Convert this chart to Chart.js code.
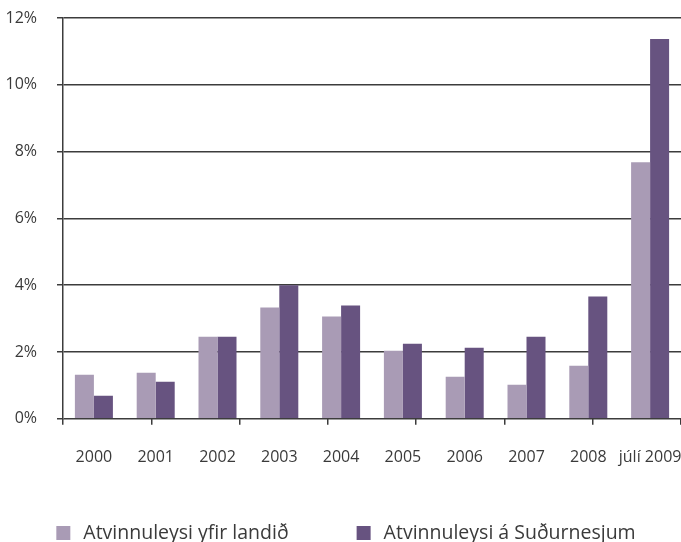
<!DOCTYPE html>
<html>
<head>
<meta charset="utf-8">
<script src="https://cdn.jsdelivr.net/npm/chart.js@4"></script>
<style>
  html, body { margin: 0; padding: 0; background: #fff; }
  #wrap { width: 681px; height: 542px; overflow: hidden; position: relative; }
  canvas { display: block; }
</style>
</head>
<body>
<div id="wrap"><canvas id="c" width="688" height="542"></canvas></div>
<script>
const categories = ['2000', '2001', '2002', '2003', '2004', '2005', '2006', '2007', '2008', 'júlí 2009'];
const seriesNames = ['Atvinnuleysi yfir landið', 'Atvinnuleysi á Suðurnesjum'];
const landid = [1.32, 1.38, 2.46, 3.33, 3.06, 2.04, 1.26, 1.02, 1.59, 7.68];
const sudurnes = [0.69, 1.11, 2.46, 4.0, 3.39, 2.25, 2.13, 2.46, 3.66, 11.37];
const yTicks = [0, 2, 4, 6, 8, 10, 12];

const lightColor = '#a99bb5';
const darkColor = '#675380';
const textColor = '#3a3a3a';
const gridColor = '#3c3c3c';

// Legend drawn from the datasets (labels + colours) below the axis.
const bottomLegend = {
  id: 'bottomLegend',
  afterDraw(chart) {
    const ctx = chart.ctx;
    const font = '19.5px "Open Sans"';
    const box = 14, gapText = 13, gapItems = 68, centerY = 533, centerX = 346;
    ctx.save();
    ctx.font = font;
    const items = chart.data.datasets.map(ds => ({
      text: ds.label, color: ds.backgroundColor,
      w: box + gapText + ctx.measureText(ds.label).width
    }));
    const total = items.reduce((s, it) => s + it.w, 0) + gapItems * (items.length - 1);
    let x = centerX - total / 2;
    ctx.textBaseline = 'middle';
    ctx.textAlign = 'left';
    items.forEach(it => {
      ctx.fillStyle = it.color;
      ctx.fillRect(x, centerY - box / 2, box, box);
      ctx.fillStyle = textColor;
      ctx.fillText(it.text, x + box + gapText, centerY);
      x += it.w + gapItems;
    });
    ctx.restore();
  }
};

new Chart(document.getElementById('c'), {
  type: 'bar',
  data: {
    labels: categories,
    datasets: [
      { label: seriesNames[0], data: landid, backgroundColor: lightColor, borderWidth: 0,
        categoryPercentage: 0.615, barPercentage: 1.0, xAxisID: 'x' },
      { label: seriesNames[1], data: sudurnes, backgroundColor: darkColor, borderWidth: 0,
        categoryPercentage: 0.615, barPercentage: 1.0, xAxisID: 'x' }
    ]
  },
  plugins: [bottomLegend],
  options: {
    responsive: false,
    animation: false,
    layout: { padding: { top: 18, right: 7, bottom: 52, left: 0 } },
    plugins: {
      tooltip: { enabled: false },
      legend: { display: false }
    },
    scales: {
      x2: {
        type: 'linear',
        position: 'bottom',
        weight: 0,
        min: 0, max: 6,
        ticks: { display: false, stepSize: 1 },
        grid: { drawOnChartArea: false, tickLength: 6, color: gridColor, lineWidth: 1.5 },
        border: { display: false }
      },
      x: {
        type: 'category',
        position: 'bottom',
        weight: 1,
        grid: { display: false, drawTicks: false },
        border: { display: false },
        ticks: {
          autoSkip: false, maxRotation: 0, minRotation: 0,
          padding: 23,
          color: textColor,
          font: { family: 'Open Sans', size: 16 }
        },
        afterFit: (scale) => { scale.paddingLeft = 0; scale.paddingRight = 0; }
      },
      y: {
        min: 0, max: 12,
        afterBuildTicks: (scale) => { scale.ticks = yTicks.map(v => ({ value: v })); },
        ticks: {
          padding: 20,
          color: textColor,
          font: { family: 'Open Sans', size: 16 },
          callback: (v) => v + '%'
        },
        grid: { color: gridColor, lineWidth: 1.5, tickLength: 6 },
        border: { display: true, color: gridColor, width: 1.5 },
        afterFit: (scale) => { scale.width = 63; scale.paddingTop = 0; scale.paddingBottom = 0; }
      }
    }
  }
});
</script>
</body>
</html>
